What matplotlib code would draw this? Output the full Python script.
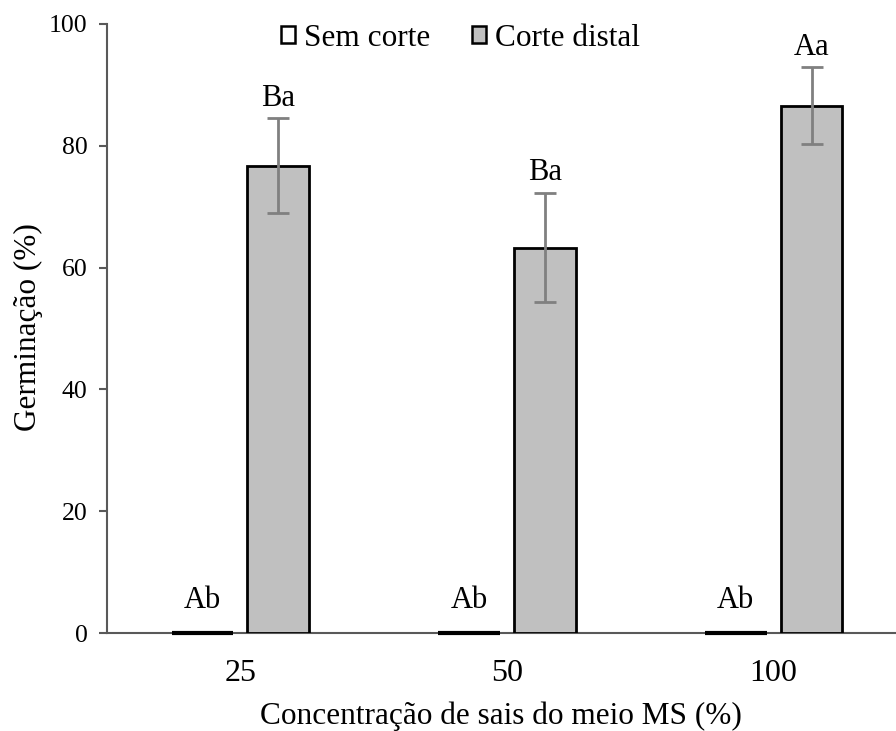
import matplotlib
matplotlib.use("Agg")
import matplotlib.pyplot as plt
import numpy as np

categories = ["25", "50", "100"]
sem_corte = [0, 0, 0]
corte_distal = [76.7, 63.3, 86.6]
corte_err = [7.8, 9.0, 6.3]
labels_sem = ["Ab", "Ab", "Ab"]
labels_distal = ["Ba", "Ba", "Aa"]

plt.rcParams['font.family'] = ['Liberation Serif', 'DejaVu Serif']

fig = plt.figure(figsize=(8.96, 7.31), dpi=100)
ax = fig.add_axes([107/896, (731-633)/731, (907-107)/896, (633-24)/731])

x = np.arange(len(categories))
w = 0.232
off = 0.142
b1 = ax.bar(x - off, sem_corte, w, color="white", edgecolor="black", linewidth=3, label="Sem corte", zorder=3)
for p in b1:
    p.set_clip_on(False)
ax.bar(x + off, corte_distal, w, color="#c0c0c0", edgecolor="black", linewidth=2, label="Corte distal", zorder=3)
ax.errorbar(x + off, corte_distal, yerr=corte_err, fmt="none", ecolor="#808080",
            elinewidth=2, capsize=8, capthick=2, zorder=4)

for xi, lab in zip(x - off, labels_sem):
    ax.text(xi, 3.0, lab, ha="center", va="bottom", fontsize=22)
for xi, v, e, lab in zip(x + off, corte_distal, corte_err, labels_distal):
    ax.text(xi, v + e + 0.9, lab, ha="center", va="bottom", fontsize=22)

ax.set_xlim(-0.5, 2.5)
ax.set_ylim(0, 100)
ax.set_yticks([0, 20, 40, 60, 80, 100])
ax.set_xticks(x)
ax.set_xticklabels(categories)
ax.tick_params(axis="x", length=0, labelsize=23, pad=19)
ax.tick_params(axis="y", length=6, width=1.5, color="#595959", labelsize=18.5, pad=8)
for s in ["top", "right"]:
    ax.spines[s].set_visible(False)
for s in ["left", "bottom"]:
    ax.spines[s].set_color("#595959")
    ax.spines[s].set_linewidth(1.5)

fig.text(28/896, 1 - 327/731, "Germinação (%)", rotation=90, ha="center", va="center", fontsize=22.5)
fig.text(501/896, 1 - 724/731, "Concentração de sais do meio MS (%)", ha="center", va="baseline", fontsize=22.5)

leg = ax.legend(loc="center left", bbox_to_anchor=((281 - 107) / 800, (633 - 38) / 609), ncol=2,
                frameon=False, borderpad=0, borderaxespad=0,
                fontsize=22.5, handlelength=0.45, handleheight=0.45, handletextpad=0.3,
                columnspacing=1.32)
for h in leg.legend_handles:
    h.set_linewidth(1.8)

fig.savefig("out.png", dpi=100)
